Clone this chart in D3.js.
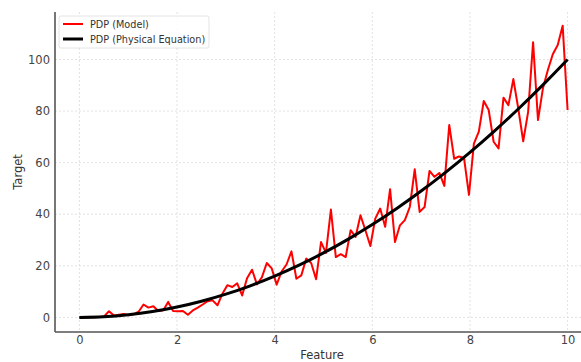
<!DOCTYPE html>
<html>
<head>
<meta charset="utf-8">
<script src="https://cdn.jsdelivr.net/npm/d3@7"></script>
<style>
  body { margin: 0; background: #fff; }
  text { font-family: "DejaVu Sans", sans-serif; }
</style>
</head>
<body>
<div id="chart"></div>
<script>
// model PDP, 100 points on linspace(0, 10, 100)
const modelPdp = [
  0.0, 0.0, 0.05, 0.1, 0.15, 0.4, 2.4, 0.7, 1.0, 1.3,
  0.8, 1.2, 2.2, 5.0, 3.8, 4.3, 2.5, 2.8, 6.0, 2.5,
  2.4, 2.5, 1.0, 2.7, 3.8, 5.0, 6.3, 6.6, 4.7, 9.2,
  12.5, 11.8, 13.2, 8.5, 15.2, 18.5, 12.8, 15.5, 21.1, 19.0,
  12.7, 17.8, 20.5, 25.6, 15.0, 16.3, 22.8, 21.1, 14.8, 29.2,
  25.0, 41.8, 23.4, 24.5, 23.4, 33.8, 31.2, 39.6, 33.8, 27.7,
  38.3, 42.2, 35.1, 49.7, 29.2, 35.7, 37.7, 42.8, 57.4, 40.9,
  42.8, 56.8, 54.5, 56.0, 51.0, 74.6, 61.5, 62.4, 61.8, 47.5,
  67.4, 72.0, 83.9, 80.4, 68.1, 65.5, 85.2, 82.3, 92.4, 81.0,
  68.3, 79.7, 106.7, 76.5, 88.8, 95.9, 102.0, 105.6, 113.1, 80.4
];
// physical equation curve read at half-unit steps
const physX = [0, 0.5, 1, 1.5, 2, 2.5, 3, 3.5, 4, 4.5, 5, 5.5, 6, 6.5, 7, 7.5, 8, 8.5, 9, 9.5, 10];
const physY = [0, 0.25, 1, 2.25, 4, 6.25, 9, 12.25, 16, 20.25, 25, 30.25, 36, 42.25, 49, 56.25, 64, 72.25, 81, 90.25, 100];
const xTicks = [0, 2, 4, 6, 8, 10];
const yTicks = [0, 20, 40, 60, 80, 100];
const legendLabels = ['PDP (Model)', 'PDP (Physical Equation)'];

const W = 581, H = 362;
const margin = { top: 12, right: -11, bottom: 30, left: 55 };
const width = W - margin.left - margin.right;
const height = H - margin.top - margin.bottom;

const svg = d3.select('#chart').append('svg')
  .attr('width', W)
  .attr('height', H);

const x = d3.scaleLinear().domain([-0.5, 10.5]).range([0, width]);
const y = d3.scaleLinear().domain([-5.66, 118.4]).range([height, 0]);

const chart = svg.append('g')
  .attr('transform', `translate(${margin.left}, ${margin.top})`);

// grid
chart.append('g').selectAll('line.gx')
  .data(xTicks).join('line')
  .attr('x1', d => x(d)).attr('x2', d => x(d))
  .attr('y1', 0).attr('y2', height)
  .attr('stroke', '#dadada').attr('stroke-width', 0.8)
  .attr('stroke-dasharray', '2,2');
chart.append('g').selectAll('line.gy')
  .data(yTicks).join('line')
  .attr('x1', 0).attr('x2', width)
  .attr('y1', d => y(d)).attr('y2', d => y(d))
  .attr('stroke', '#dadada').attr('stroke-width', 0.8)
  .attr('stroke-dasharray', '2,2');

// axes
const xAxis = chart.append('g')
  .attr('transform', `translate(0, ${height})`)
  .call(d3.axisBottom(x).tickValues(xTicks).tickSize(0).tickPadding(4));
const yAxis = chart.append('g')
  .call(d3.axisLeft(y).tickValues(yTicks).tickSize(0).tickPadding(5));
[xAxis, yAxis].forEach(a => {
  a.select('.domain').attr('stroke', '#555').attr('stroke-width', 1.6);
  a.selectAll('text').attr('fill', '#444').attr('font-size', 11.5)
    .attr('font-family', '"DejaVu Sans", sans-serif');
});
xAxis.select('.domain').attr('d', `M0,0H${width}`);
yAxis.select('.domain').attr('d', `M0,${height}V0`);

// lines
const modelLine = d3.line()
  .x((d, i) => x(i * 10 / 99))
  .y(d => y(d));
chart.append('path')
  .datum(modelPdp)
  .attr('fill', 'none')
  .attr('stroke', '#ff0000')
  .attr('stroke-width', 2)
  .attr('stroke-linejoin', 'round')
  .attr('d', modelLine);

const physLine = d3.line()
  .curve(d3.curveMonotoneX)
  .x((d, i) => x(physX[i]))
  .y(d => y(d));
chart.append('path')
  .datum(physY)
  .attr('fill', 'none')
  .attr('stroke', '#000')
  .attr('stroke-width', 3)
  .attr('d', physLine);

// axis labels
svg.append('text')
  .attr('x', 322).attr('y', 359)
  .attr('text-anchor', 'middle')
  .attr('font-size', 11.5).attr('fill', '#333')
  .text('Feature');
svg.append('text')
  .attr('transform', 'translate(22, 172) rotate(-90)')
  .attr('text-anchor', 'middle')
  .attr('font-size', 11.5).attr('fill', '#333')
  .text('Target');

// legend
const legend = svg.append('g').attr('transform', 'translate(59, 16)');
legend.append('rect')
  .attr('width', 150).attr('height', 32)
  .attr('rx', 2)
  .attr('fill', '#fff').attr('fill-opacity', 0.85)
  .attr('stroke', '#ddd').attr('stroke-width', 0.8);
const legendColors = ['#ff0000', '#000'];
const legendWidths = [2, 3];
legendLabels.forEach((lab, i) => {
  const row = legend.append('g').attr('transform', `translate(0, ${8 + i * 15})`);
  row.append('line')
    .attr('x1', 4).attr('x2', 24)
    .attr('stroke', legendColors[i]).attr('stroke-width', legendWidths[i]);
  row.append('text')
    .attr('x', 31).attr('y', 3.5)
    .attr('font-size', 9.7).attr('fill', '#333')
    .text(lab);
});
</script>
</body>
</html>
